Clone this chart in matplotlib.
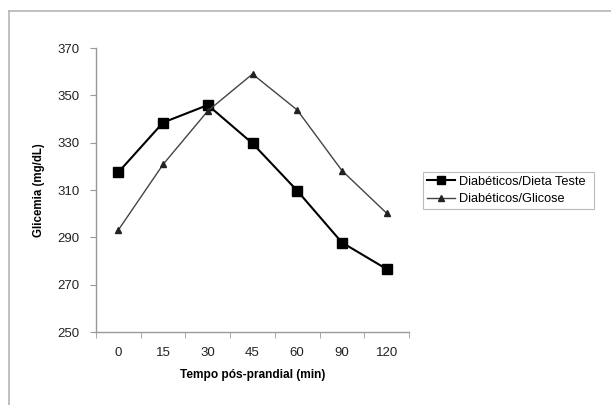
import matplotlib.pyplot as plt
from matplotlib.lines import Line2D

plt.rcParams['font.family'] = ['Liberation Sans', 'DejaVu Sans']

tempos = ['0', '15', '30', '45', '60', '90', '120']
dieta_teste = [317.5, 338.5, 345.9, 329.7, 309.7, 287.8, 276.6]
glicose = [293.1, 320.8, 343.4, 359.0, 343.8, 318.2, 300.2]

W, H = 611, 405
fig = plt.figure(figsize=(W / 100, H / 100), dpi=100)

# moldura cinza (esquerda e topo)
fig.add_artist(Line2D([9 / W, 9 / W], [0, 1 - 11 / H], color='#b5b5b5', lw=1.2))
fig.add_artist(Line2D([9 / W, 1], [1 - 11 / H, 1 - 11 / H], color='#b5b5b5', lw=1.2))

ax = fig.add_axes([96 / W, 1 - 332 / H, (409 - 96) / W, (332 - 48) / H])
x = range(len(tempos))

ax.plot(x, dieta_teste, color='black', lw=1.5, marker='s', markersize=7.5,
        label='Diabéticos/Dieta Teste')
ax.plot(x, glicose, color='#444444', lw=1.0, marker='^', markersize=5,
        markerfacecolor='#222222', markeredgecolor='#222222',
        label='Diabéticos/Glicose')

ax.set_xlim(-0.5, len(tempos) - 0.5)
ax.set_ylim(250, 370)
ax.set_yticks(range(250, 371, 20))
ax.set_xticks(x)
ax.set_xticklabels(tempos)
ax.set_xticks([i + 0.5 for i in range(-1, len(tempos))], minor=True)
ax.tick_params(axis='x', which='major', length=0, pad=11, labelsize=9.5, labelcolor='#222222')
ax.tick_params(axis='x', which='minor', length=4, color='#999999', direction='out')
ax.tick_params(axis='y', length=4, color='#999999', direction='out', labelsize=9.5,
               pad=8, labelcolor='#222222')

for s in ['top', 'right']:
    ax.spines[s].set_visible(False)
for s in ['left', 'bottom']:
    ax.spines[s].set_color('#999999')
    ax.spines[s].set_linewidth(1.0)

ax.set_xlabel('Tempo pós-prandial (min)', fontsize=8.6, fontweight='bold', labelpad=7)
ax.set_ylabel('Glicemia (mg/dL)', fontsize=8.3, fontweight='bold', labelpad=9)

leg = ax.legend(loc='center left', bbox_to_anchor=(423 / W, 1 - 212 / H, (594 - 423) / W, 43 / H),
                bbox_transform=fig.transFigure, mode='expand', fontsize=9.2, frameon=True,
                fancybox=False, edgecolor='#aaaaaa', handlelength=2.2, handletextpad=0.3,
                borderpad=0.3, labelspacing=0.4, borderaxespad=0, markerscale=0.8)
leg.get_frame().set_linewidth(0.8)

fig.savefig('out.png', dpi=100)
